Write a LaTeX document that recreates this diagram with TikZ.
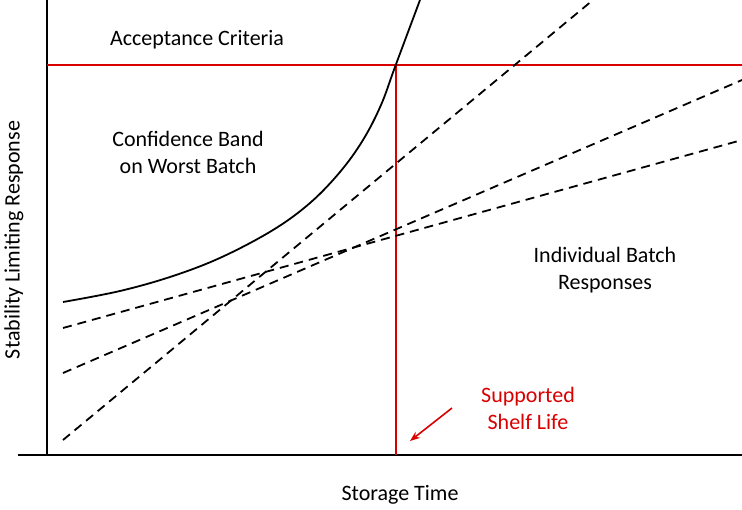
\documentclass[tikz,border=0pt]{standalone}
\usepackage{fontspec}
\setmainfont{Carlito}
\usetikzlibrary{arrows.meta}
\tikzset{
  axis/.style={line width=2.4pt, black},
  limit/.style={line width=1.8pt, red!85!black},
  batch/.style={line width=1.8pt, dash pattern=on 9pt off 6pt},
  lbl/.style={font=\fontsize{22}{27}\selectfont, align=center}
}
\begin{document}
\begin{tikzpicture}[x=1pt, y=-1pt]
  \useasboundingbox (0,0) rectangle (742,510);
  % axes
  \coordinate (top) at (47,0);
  \coordinate (orig) at (47,455);
  \coordinate (xl) at (18,455);
  \coordinate (xr) at (742,455);
  \draw[axis] (top) -- (orig);
  \draw[axis] (xl) -- (xr);
  % acceptance limit and shelf life
  \coordinate (al) at (47,65);
  \coordinate (ar) at (742,65);
  \coordinate (sl) at (396,65);
  \coordinate (sb) at (396,455);
  \draw[limit] (al) -- (ar);
  \draw[limit] (sl) -- (sb);
  % individual batches
  \draw[batch] (63,440) -- (593,0);
  \draw[batch] (63,373) -- (742,80);
  \draw[batch] (63,328) -- (742,140);
  % confidence band
  \draw[line width=1.8pt] plot[smooth, tension=0.6] coordinates
    {(63,302) (120,291) (173,276) (222,257) (273,230) (310,203)
     (340,172) (363,140) (381,105) (395,67) (420,0)};
  % labels
  \node[lbl] (acc) at (197,40) {Acceptance Criteria};
  \node[lbl] (conf) at (188,152) {Confidence Band\\on Worst Batch};
  \node[lbl] (ind) at (605,270) {Individual Batch\\Responses};
  \node[lbl, text=red!85!black] (shelf) at (528,408) {Supported\\Shelf Life};
  \node[lbl, rotate=90] (ylab) at (14,240) {Stability Limiting Response};
  \node[lbl] (xlab) at (400,495) {Storage Time};
  \coordinate (tail) at (452,408);
  \coordinate (tip) at (410,441);
  \draw[limit, line width=1.6pt, -{Stealth[length=10pt]}] (tail) -- (tip);
\end{tikzpicture}
\end{document}
